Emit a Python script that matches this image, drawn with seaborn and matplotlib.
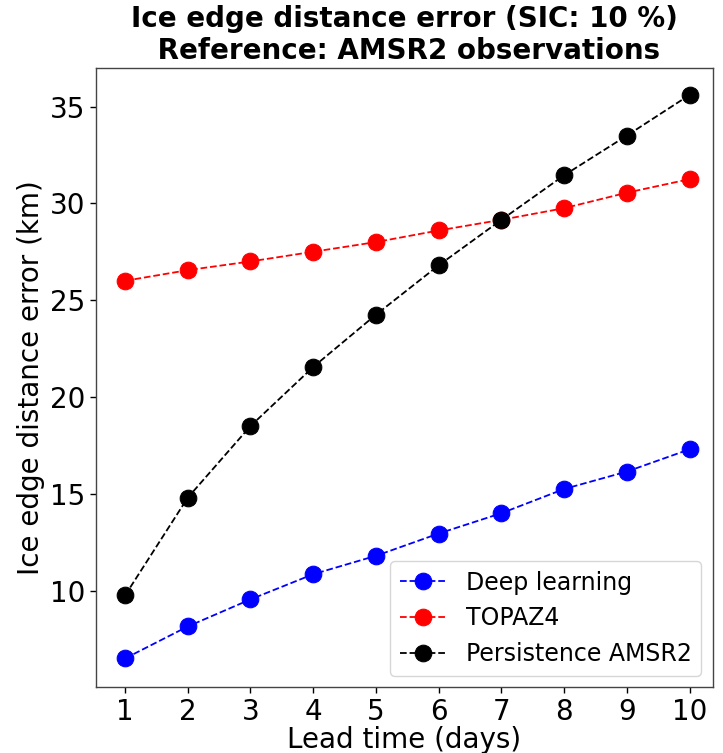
import matplotlib
matplotlib.use("Agg")
import matplotlib.pyplot as plt
import seaborn as sns
import pandas as pd

lead_time = [1, 2, 3, 4, 5, 6, 7, 8, 9, 10]
deep_learning = [6.5, 8.15, 9.55, 10.85, 11.8, 12.95, 14.0, 15.25, 16.15, 17.3]
topaz4 = [26.0, 26.55, 27.0, 27.5, 28.0, 28.6, 29.15, 29.75, 30.55, 31.25]
persistence = [9.75, 14.8, 18.5, 21.55, 24.25, 26.8, 29.15, 31.45, 33.5, 35.6]
y_ticks = [10, 15, 20, 25, 30, 35]

series = {"Deep learning": (deep_learning, "blue"),
          "TOPAZ4": (topaz4, "red"),
          "Persistence AMSR2": (persistence, "black")}

sns.set_style("white")
plt.rcParams['font.family'] = ['DejaVu Sans']
plt.rcParams['text.color'] = 'black'
plt.rcParams['axes.labelcolor'] = 'black'
plt.rcParams['xtick.color'] = 'black'
plt.rcParams['ytick.color'] = 'black'

fig = plt.figure(figsize=(7.23, 7.53), dpi=100)
ax = fig.add_axes([0.133, 0.087, 0.853, 0.823])

for name, (vals, col) in series.items():
    df = pd.DataFrame({"lead": lead_time, "val": vals})
    sns.lineplot(data=df, x="lead", y="val", ax=ax, color=col, linestyle="--",
                 marker="o", markersize=12, markeredgecolor=col, linewidth=1.3, label=name)

ax.set_xticks(lead_time)
ax.set_yticks(y_ticks)
ax.set_xlim(0.54, 10.37)
ax.set_ylim(5.0, 37.0)
ax.tick_params(axis="both", labelsize=20, length=4, width=1, direction="out",
               bottom=True, left=True, colors="black")
ax.set_xlabel("Lead time (days)", fontsize=20, labelpad=0)
ax.set_ylabel("Ice edge distance error (km)", fontsize=20)
ax.set_title("Ice edge distance error (SIC: 10 %)\n Reference: AMSR2 observations",
             fontsize=20, fontweight="bold", pad=6, color="black")
for s in ax.spines.values():
    s.set_color("#444444")
    s.set_linewidth(1.0)
ax.legend(loc="lower right", fontsize=17, frameon=True)

fig.savefig("out.png", dpi=100)
